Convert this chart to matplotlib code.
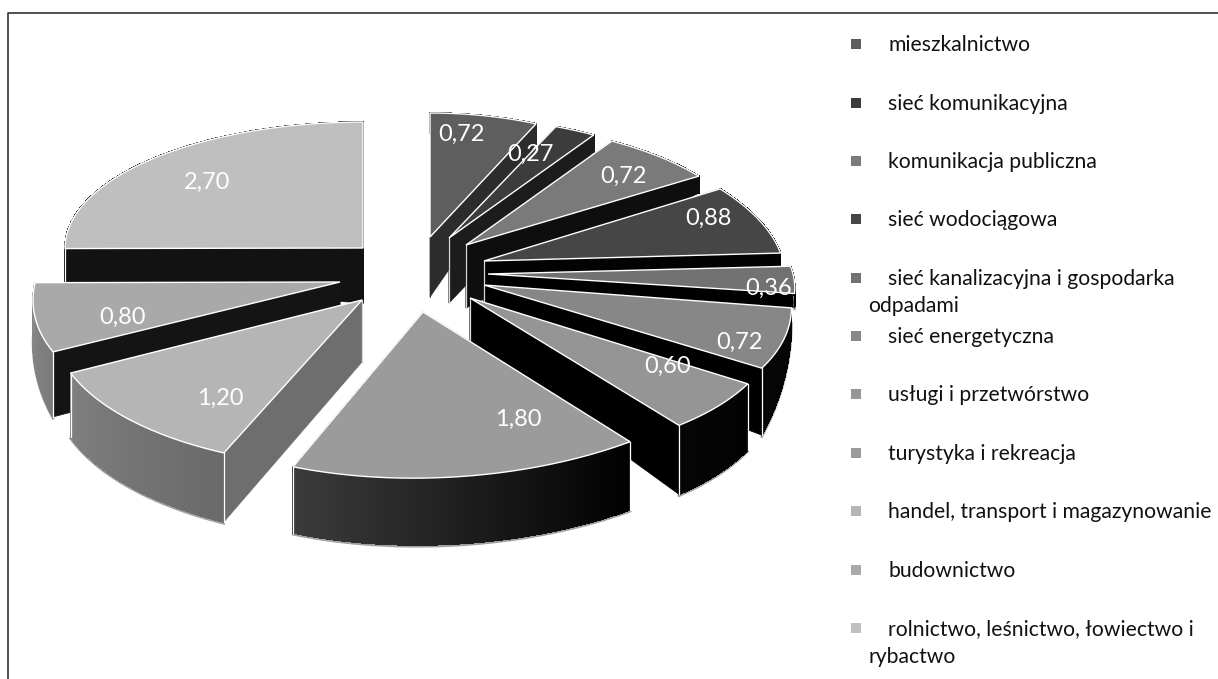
import numpy as np
import matplotlib
matplotlib.use("Agg")
import matplotlib.pyplot as plt
from matplotlib.colors import to_rgb
from matplotlib.patches import Polygon, Rectangle

plt.rcParams['font.family'] = ['Lato', 'DejaVu Sans']

categories = ["mieszkalnictwo", "sieć komunikacyjna", "komunikacja publiczna",
              "sieć wodociągowa", "sieć kanalizacyjna i gospodarka", "sieć energetyczna",
              "usługi i przetwórstwo", "turystyka i rekreacja",
              "handel, transport i magazynowanie", "budownictwo",
              "rolnictwo, leśnictwo, łowiectwo i"]
wrapped = {4: "odpadami", 10: "rybactwo"}
values = [0.72, 0.27, 0.72, 0.88, 0.36, 0.72, 0.60, 1.80, 1.20, 0.80, 2.70]

# layout of the exploded, perspective-looking slices (pixels)
apex = [(430, 237), (449, 238), (466, 245), (484, 261), (488, 274), (484, 285),
        (470, 298), (423, 312), (362, 300), (340, 282), (363, 248)]
a_start = [260, 262, 267, 281, 303, 311, 330, 342, 355, 322, 298]
a_end = [260, 265, 277, 297, 310, 330, 345, 334, 327, 305, 298]
b_start = [124, 122, 124, 133, 130, 153, 159, 163, 166, 154, 126]
b_end = [124, 123, 127, 133, 130, 154, 160, 168, 161, 154, 126]
depth_apex = [60, 65, 63, 45, 40, 45, 45, 52, 62, 60, 55]
depth_start = [20, 17, 17, 13, 14, 14, 66, 68, 69, 65, 34]
depth_end = [20, 17, 17, 15, 14, 67, 69, 66, 64, 34, 20]
top_col = ['#5e5e5e', '#3c3c3c', '#7a7a7a', '#464646', '#727272', '#878787',
           '#959595', '#9b9b9b', '#b5b5b5', '#a9a9a9', '#bfbfbf']
cut_col = ['#2c2c2c', '#1c1c1c', '#0e0e0e', '#030303', '#000000', '#000000',
           '#000000', '#000000', '#6e6e6e', '#141414', '#121212']
rim_start_col = ['#2c2c2c', '#1c1c1c', '#0e0e0e', '#030303', '#000000', '#050505',
                 '#030303', '#000000', '#6a6a6a', '#7a7a7a', '#121212']
rim_end_col = ['#2c2c2c', '#1c1c1c', '#0e0e0e', '#030303', '#000000', '#050505',
               '#050505', '#3c3c3c', '#808080', '#8a8a8a', '#121212']
label_pos = [(461, 134), (530, 154), (623, 176), (708, 218), (769, 288), (739, 342),
             (668, 366), (518, 419), (220, 398), (122, 317), (207, 182)]
draw_order = [10, 0, 1, 2, 3, 4, 5, 6, 9, 8, 7]
legend_y = [44, 103, 161, 219, 278, 336, 394, 453, 511, 570, 628]
wrapped_y = {4: 305, 10: 656}

fig = plt.figure(figsize=(12.18, 6.79), dpi=100)
ax = fig.add_axes([0, 0, 1, 1])
ax.set_xlim(0, 1218)
ax.set_ylim(679, 0)
ax.axis('off')

ax.plot([8, 8, 1218], [679, 13, 13], color='#333333', lw=1.2, zorder=1)

edges = np.cumsum([0] + values) / sum(values) * 2 * np.pi
z = 10
for i in draw_order:
    px, py = apex[i]
    t = np.linspace(edges[i], edges[i + 1], 60)
    u = np.linspace(0, 1, 60)
    xs = px + (a_start[i] + (a_end[i] - a_start[i]) * u) * np.sin(t)
    ys = py - (b_start[i] + (b_end[i] - b_start[i]) * u) * np.cos(t)
    dr = depth_start[i] + (depth_end[i] - depth_start[i]) * u
    da = depth_apex[i]
    # back-facing cut first, front-facing cut after it
    for j in sorted((0, -1), key=lambda n: ys[n]):
        wall = [(px, py), (xs[j], ys[j]), (xs[j], ys[j] + dr[j]), (px, py + da)]
        ax.add_patch(Polygon(wall, closed=True, fc=cut_col[i], ec=cut_col[i], lw=0.5, zorder=z))
        z += 1
    if i in (1, 2, 3, 5, 6, 8):
        ax.plot([px, px], [py, py + da], color='#d8d8d8', lw=0.9, zorder=z)
    # soft grey rim under the front-facing part of the slice
    front = (t > np.radians(92)) & (t < np.radians(271))
    if front.any():
        ax.plot(xs[front], ys[front] + dr[front] + 1.5, color='#a0a0a0', lw=1.8, zorder=z)
    z += 1
    c0, c1 = np.array(to_rgb(rim_start_col[i])), np.array(to_rgb(rim_end_col[i]))
    for k in range(len(t) - 1):
        col = tuple(c0 + (c1 - c0) * u[k])
        quad = [(xs[k], ys[k]), (xs[k + 1], ys[k + 1]),
                (xs[k + 1], ys[k + 1] + dr[k + 1]), (xs[k], ys[k] + dr[k])]
        ax.add_patch(Polygon(quad, closed=True, fc=col, ec=col, lw=0.6,
                             antialiased=False, zorder=z))
    z += 1
    for j in (0, -1):
        if dr[j] > 30:
            ax.plot([xs[j], xs[j]], [ys[j], ys[j] + dr[j]], color='white', lw=0.9, zorder=z)
    top = np.vstack([[px, py], np.column_stack([xs, ys])])
    ax.add_patch(Polygon(top, closed=True, fc=top_col[i], ec='white', lw=1.0, zorder=z + 1))
    z += 2

for i, v in enumerate(values):
    x, y = label_pos[i]
    ax.text(x, y, f"{v:.2f}".replace('.', ','), color='white', fontsize=17,
            ha='center', va='center', zorder=1000)

for i, name in enumerate(categories):
    y = legend_y[i]
    ax.add_patch(Rectangle((851, y - 5), 10, 10, fc=top_col[i], ec='none', zorder=5))
    ax.text(888, y + 1, name, fontsize=15.2, color='#111111', va='center', ha='left', zorder=5)
    if i in wrapped:
        ax.text(868, wrapped_y[i] + 1, wrapped[i], fontsize=15.2, color='#111111',
                va='center', ha='left', zorder=5)

fig.savefig("out.png", dpi=100, facecolor='white')
